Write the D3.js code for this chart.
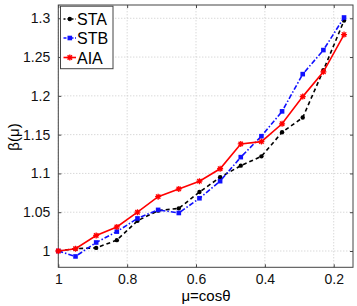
<!DOCTYPE html>
<html>
<head>
<meta charset="utf-8">
<script src="https://cdn.jsdelivr.net/npm/d3@7"></script>
<style>
  body { margin: 0; background: #fff; }
  svg { font-family: "Liberation Sans", Arial, sans-serif; }
</style>
</head>
<body>
<div id="chart"></div>
<script>
// mu = cos(theta), plotted right to left
const mu = [1, 0.95, 0.89, 0.83, 0.77, 0.71, 0.65, 0.59, 0.53, 0.47, 0.41, 0.35, 0.29, 0.23, 0.17];
const sta = [1, 1.003, 1.004, 1.014, 1.039, 1.052, 1.055, 1.076, 1.095, 1.110, 1.122, 1.153, 1.172, 1.233, 1.297];
const stb = [1, 0.993, 1.011, 1.025, 1.042, 1.053, 1.049, 1.068, 1.090, 1.121, 1.148, 1.180, 1.228, 1.259, 1.301];
const aia = [1, 1.003, 1.020, 1.031, 1.050, 1.070, 1.080, 1.090, 1.106, 1.138, 1.141, 1.164, 1.199, 1.231, 1.279];
const xTicks = [1, 0.8, 0.6, 0.4, 0.2];
const yTicks = [1, 1.05, 1.1, 1.15, 1.2, 1.25, 1.3];

const width = 357;
const height = 306;
const margin = { top: 5, right: 4, bottom: 38.7, left: 58.3 };

const svg = d3.select('#chart')
  .append('svg')
  .attr('width', width)
  .attr('height', height);

const x = d3.scaleLinear()
  .domain([1, 0.144])
  .range([margin.left, width - margin.right]);

const y = d3.scaleLinear()
  .domain([0.979, 1.3171])
  .range([height - margin.bottom, margin.top]);

const x0 = x.range()[0], x1 = x.range()[1];
const y0 = y.range()[0], y1 = y.range()[1];

// grid
const grid = svg.append('g');
grid.selectAll('.gx').data(xTicks).enter().append('line')
  .attr('x1', d => x(d)).attr('x2', d => x(d))
  .attr('y1', y0).attr('y2', y1)
  .attr('stroke', '#c8c8c8').attr('stroke-dasharray', '1,2');
grid.selectAll('.gy').data(yTicks).enter().append('line')
  .attr('y1', d => y(d)).attr('y2', d => y(d))
  .attr('x1', x0).attr('x2', x1)
  .attr('stroke', '#c8c8c8').attr('stroke-dasharray', '1,2');

// axes (ticks inside, mirrored on top and right)
const tickLen = 3;
const axisColor = '#444';
svg.append('g')
  .attr('transform', `translate(0,${y0})`)
  .call(d3.axisBottom(x).tickValues(xTicks).tickSizeInner(-tickLen).tickSizeOuter(0).tickPadding(7).tickFormat(d3.format('')))
  .call(g => g.select('.domain').remove());
svg.append('g')
  .attr('transform', `translate(0,${y1})`)
  .call(d3.axisTop(x).tickValues(xTicks).tickSizeInner(-tickLen).tickSizeOuter(0).tickFormat(''))
  .call(g => g.select('.domain').remove());
svg.append('g')
  .attr('transform', `translate(${x0},0)`)
  .call(d3.axisLeft(y).tickValues(yTicks).tickSizeInner(-tickLen).tickSizeOuter(0).tickPadding(8).tickFormat(d3.format('')))
  .call(g => g.select('.domain').remove());
svg.append('g')
  .attr('transform', `translate(${x1},0)`)
  .call(d3.axisRight(y).tickValues(yTicks).tickSizeInner(-tickLen).tickSizeOuter(0).tickFormat(''))
  .call(g => g.select('.domain').remove());

svg.selectAll('.tick line').attr('stroke', axisColor);
svg.selectAll('.tick text').attr('font-size', 14).attr('fill', '#111')
  .attr('font-family', '"Liberation Sans", Arial, sans-serif');

svg.append('rect')
  .attr('x', x0).attr('y', y1)
  .attr('width', x1 - x0).attr('height', y0 - y1)
  .attr('fill', 'none').attr('stroke', axisColor).attr('stroke-width', 1);

// axis labels
svg.append('text')
  .attr('x', 206).attr('y', 300.5)
  .attr('text-anchor', 'middle')
  .attr('font-size', 15)
  .text('μ=cosθ');
svg.append('text')
  .attr('transform', 'translate(19,137) rotate(-90)')
  .attr('text-anchor', 'middle')
  .attr('font-size', 15)
  .text('β(μ)');

// series
const series = [
  { name: 'STA', values: sta, color: '#000', dash: '4,3', marker: 'dot' },
  { name: 'STB', values: stb, color: '#1010ff', dash: '5,2,1.5,2', marker: 'square' },
  { name: 'AIA', values: aia, color: '#ff0000', dash: null, marker: 'star' }
];

const line = d3.line()
  .x(d => x(d[0]))
  .y(d => y(d[1]));

function drawMarker(g, cx, cy, s) {
  if (s.marker === 'dot') {
    g.append('circle').attr('cx', cx).attr('cy', cy).attr('r', 2.2).attr('fill', s.color);
  } else if (s.marker === 'square') {
    g.append('rect').attr('x', cx - 2.3).attr('y', cy - 2.3).attr('width', 4.6).attr('height', 4.6).attr('fill', s.color);
  } else {
    const r = 3;
    g.append('path')
      .attr('d', `M${cx - r},${cy}H${cx + r}M${cx},${cy - r}V${cy + r}M${cx - 2.2},${cy - 2.2}L${cx + 2.2},${cy + 2.2}M${cx - 2.2},${cy + 2.2}L${cx + 2.2},${cy - 2.2}`)
      .attr('stroke', s.color).attr('stroke-width', 1.3);
  }
}

series.forEach(s => {
  const pts = mu.map((m, i) => [m, s.values[i]]);
  svg.append('path')
    .datum(pts)
    .attr('d', line)
    .attr('fill', 'none')
    .attr('stroke', s.color)
    .attr('stroke-width', 1.6)
    .attr('stroke-dasharray', s.dash);
  const mg = svg.append('g');
  pts.forEach(p => drawMarker(mg, x(p[0]), y(p[1]), s));
});

// legend
const legend = svg.append('g');
legend.append('rect')
  .attr('x', 60.5).attr('y', 6.2)
  .attr('width', 52.5).attr('height', 62.5)
  .attr('fill', '#fff').attr('stroke', axisColor).attr('stroke-width', 1);
const legY = [19, 38, 57.5];
series.forEach((s, i) => {
  const ly = legY[i];
  legend.append('line')
    .attr('x1', 63.5).attr('x2', 76)
    .attr('y1', ly).attr('y2', ly)
    .attr('stroke', s.color).attr('stroke-width', 1.6)
    .attr('stroke-dasharray', s.dash ? (i === 0 ? '2,2' : '3,1.5,1,1.5') : null);
  drawMarker(legend, 69.8, ly, s);
  legend.append('text')
    .attr('x', 77).attr('y', ly + 6)
    .attr('font-size', 16)
    .text(s.name);
});
</script>
</body>
</html>
